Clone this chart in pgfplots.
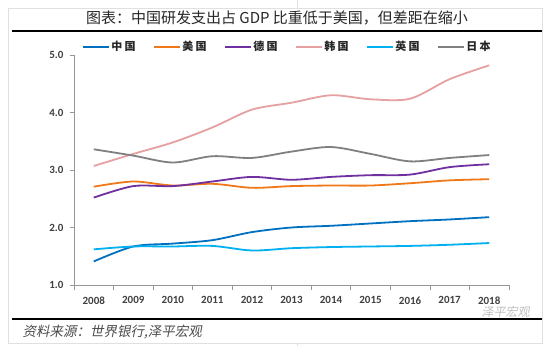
\documentclass[border=0pt]{standalone}
\usepackage{fontspec}
\usepackage{pgfplots}
\pgfplotsset{compat=1.18}
\setmainfont{Carlito}
\newfontfamily\cjk{Noto Sans CJK SC}
\newfontfamily\cjkleg[LetterSpace=20]{Noto Sans CJK SC}
\newfontfamily\cjkit[FakeSlant=0.2]{Noto Sans CJK SC}
\definecolor{cChina}{HTML}{0070C0}
\definecolor{cUS}{HTML}{F07818}
\definecolor{cDE}{HTML}{7030A0}
\definecolor{cKR}{HTML}{E6A0A2}
\definecolor{cUK}{HTML}{00B0F0}
\definecolor{cJP}{HTML}{808080}
\definecolor{axcol}{HTML}{969696}
\definecolor{lab}{HTML}{404040}
\begin{document}
\begin{tikzpicture}
\fill[white] (0pt,0pt) rectangle (550pt,346pt);
\path[use as bounding box] (0pt,0pt) rectangle (550pt,346pt);
\draw[black!12] (8pt,3pt) rectangle (542pt,338pt);
\draw[black!12] (297pt,338pt) -- (297pt,346pt);
\draw[black!12] (297pt,0pt) -- (297pt,3pt);
\draw[line width=2.5pt] (12pt,315pt) -- (542pt,315pt);
\draw[line width=2pt] (12pt,27pt) -- (542pt,27pt);
\node[font=\cjk\fontsize{15}{15}\selectfont, text=black!85] at (277pt,328pt) {图表：中国研发支出占 GDP 比重低于美国，但差距在缩小};
\node[anchor=west, font=\cjkit\fontsize{13.5}{14}\selectfont, text=black!70] at (19pt,14pt) {资料来源：世界银行,泽平宏观};
\node[anchor=west, font=\cjkit\fontsize{12}{12}\selectfont, text=black!25] at (478pt,34pt) {泽平宏观};
\begin{axis}[
  width=435pt, height=230pt, scale only axis,
  at={(74pt,61pt)}, anchor=south west,
  xmin=2007.5, xmax=2018.5, ymin=1, ymax=5,
  axis lines*=left, axis line style={draw=axcol, line width=0.8pt, -},
  xtick={2008,...,2018}, minor xtick={2007.5,2008.5,...,2018.5}, ytick={1,2,3,4,5},
  tick align=outside, major tick length=4pt, minor tick length=5pt,
  major x tick style={draw=none}, minor x tick style={draw=axcol, line width=0.8pt},
  major y tick style={draw=axcol, line width=0.8pt},
  ticklabel style={font=\bfseries\fontsize{11}{11}\selectfont, text=lab},
  /pgf/number format/assume math mode=true,
  xticklabel style={/pgf/number format/1000 sep=, yshift=-4pt},
  yticklabel style={/pgf/number format/.cd, fixed, fixed zerofill, precision=1, /tikz/xshift=-3pt},
  legend columns=6,
  legend style={draw=none, fill=none, at={(0.018,1.035)}, anchor=west,
    font=\cjkleg\bfseries\fontsize{11}{11}\selectfont, text=black!85,
    /tikz/every even column/.append style={column sep=16pt},
    inner sep=0pt, nodes={inner sep=1.5pt}},
  legend image code/.code={\draw[#1, line width=1.8pt] (0pt,0pt) -- (26pt,0pt);},
  every axis plot/.append style={line width=1.8pt, smooth, tension=0.5, mark=none},
]
\addplot[cChina] coordinates {(2008,1.41) (2009,1.67) (2010,1.72) (2011,1.78) (2012,1.92) (2013,2.00) (2014,2.03) (2015,2.07) (2016,2.11) (2017,2.14) (2018,2.18)};
\addlegendentry{中国}
\addplot[cUS] coordinates {(2008,2.71) (2009,2.80) (2010,2.73) (2011,2.76) (2012,2.69) (2013,2.72) (2014,2.73) (2015,2.73) (2016,2.77) (2017,2.82) (2018,2.84)};
\addlegendentry{美国}
\addplot[cDE] coordinates {(2008,2.52) (2009,2.72) (2010,2.72) (2011,2.80) (2012,2.88) (2013,2.83) (2014,2.88) (2015,2.91) (2016,2.92) (2017,3.05) (2018,3.10)};
\addlegendentry{德国}
\addplot[cKR] coordinates {(2008,3.07) (2009,3.28) (2010,3.48) (2011,3.74) (2012,4.05) (2013,4.17) (2014,4.30) (2015,4.23) (2016,4.24) (2017,4.58) (2018,4.82)};
\addlegendentry{韩国}
\addplot[cUK] coordinates {(2008,1.62) (2009,1.67) (2010,1.67) (2011,1.68) (2012,1.60) (2013,1.64) (2014,1.66) (2015,1.67) (2016,1.68) (2017,1.70) (2018,1.73)};
\addlegendentry{英国}
\addplot[cJP] coordinates {(2008,3.36) (2009,3.25) (2010,3.13) (2011,3.24) (2012,3.21) (2013,3.32) (2014,3.40) (2015,3.28) (2016,3.15) (2017,3.21) (2018,3.26)};
\addlegendentry{日本}
\end{axis}
\end{tikzpicture}
\end{document}
